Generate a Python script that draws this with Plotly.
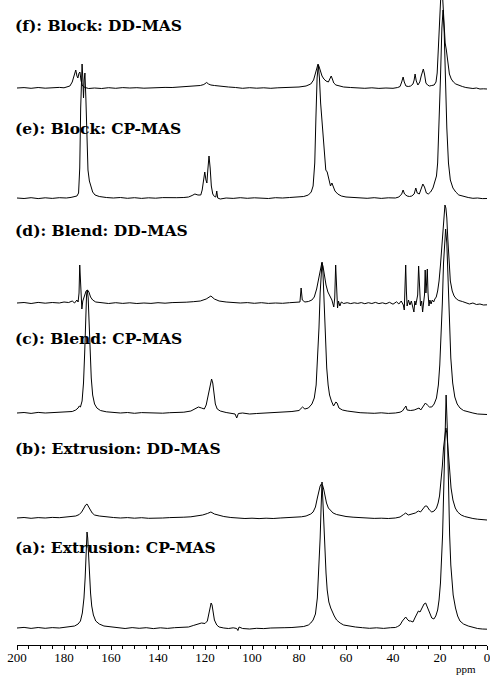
import plotly.graph_objects as go

# ---- data: (ppm, relative intensity) ----
spec_a = [(200,0),(197,0.6),(194,-0.4),(191,0.5),(188,-0.3),(185,0.4),(182,0),(179,0.6),(177,1),(175.5,2),(174,4),
(173,7),(172.2,15),(171.5,30),(171,50),(170.7,70),(170.4,88),(170.2,96),(169.9,90),(169.6,75),(169.2,55),(168.7,35),(168.2,22),(167.5,13),(166.5,7),(165,4),(163,2),(160,1),
(157,0.2),(154,-0.5),(151,0.4),(148,-0.3),(145,0.3),(142,-0.6),(139,0.2),(136,-0.4),(133,0.3),(130,0.5),(127,1),(125,2.5),(123,4),(121.5,5),(120,4.5),(119,7),(118.3,15),(117.8,22),(117.4,25),(117,23),(116.5,15),(116,8),(115,3),(114,1),(112,0),(110,-0.5),(108,0.2),(106.5,-0.5),(106,-2.5),(105.5,1),(104,-0.5),(101,-1),(98,-0.3),(95,-0.6),(92,0),(89,-0.2),(86,0.3),(83,0.5),(80,1),(78,1.5),(76,3),(75,5),(74,8),(73,14),(72.2,30),(71.5,60),(71,90),(70.6,120),(70.2,146),(69.8,125),(69.4,100),(69,80),(68.5,55),(68,38),(67.3,26),(66.5,20),(66,17),(65,12),(64,8),(62.5,5),(61,3),(59,2),(56,1),(53,0.3),(50,-0.3),(47,0.2),(44,-0.4),(41,0.3),(39,0.5),(38,1.5),(37,3),(36,7),(35.2,10),(34.6,11),(34,9),(33.2,7),(32.5,7),(31.5,6),(30.5,11),(29.8,15),(29.2,17),(28.5,16),(27.5,20),(26.8,24),(26.1,25),(25.4,21),(24.5,15),(23.5,10),(22.6,9),(21.8,12),(21,18),(20.4,28),(19.8,45),(19.4,63),(18.9,93),(18.4,140),(17.9,200),(17.4,233),(16.9,200),(16.4,140),(15.9,93),(15.4,63),(14.4,33),(13.4,20),(12.5,12),(11.5,7),(10,4),(8,2),(6,0.5),(4,-0.5),(2,-1),(0,-1.2)]

spec_b = [(200,0),(197,0.5),(194,-0.3),(191,0.4),(188,0),(185,0.6),(182,0.3),(179,0.8),(177,1.2),(175,2),(173.5,3.5),(172.5,6),(171.5,10),(170.8,13),(170.2,14),(169.6,12),(169,9),(168,5),(167,3),(165,2),(162,1),(159,0.5),(156,0),(153,0.4),(150,-0.2),(147,0.3),(144,-0.3),(141,0.2),(138,0),(135,0.4),(132,0.3),(129,0.8),(126,1.2),(123,2),(121,3),(119,4.5),(117.5,6),(116,4),(114,2.5),(112,1.5),(109,0.5),(106,0),(103,-0.5),(100,-0.2),(97,-0.6),(94,-0.2),(91,-0.5),(88,0),(85,0.2),(82,0.6),(79,1.2),(77,2),(75,4),(74,6),(73,11),(72.2,20),(71.5,28),(71,32),(70.5,34),(70,33),(69.5,29),(69,22),(68.3,15),(67.5,10),(66.5,7),(65.5,5),(64,3.5),(62,2.5),(60,1.5),(57,0.8),(54,0.2),(51,0),(48,-0.4),(45,-0.2),(42,-0.5),(39,0),(37,1),(35.5,3.5),(34.6,5),(33.5,3),(32.3,3.5),(30.5,5),(29.2,7),(28.3,6),(27.3,9),(26.3,12),(25.6,12),(24.5,8),(23.5,6),(22.5,7),(21.5,10),(20.8,15),(20.2,22),(19.6,35),(19,52),(18.5,70),(18,84),(17.5,90),(17.1,85),(16.6,68),(16,48),(15.3,30),(14.5,18),(13.5,10),(12.5,6),(11,3),(9.5,1.5),(8,0.5),(6,-0.5),(4,-1.2),(2,-1.5),(0,-2)]

spec_c = [(200,0),(197,0.5),(194,-0.4),(191,0.6),(188,0),(185,0.3),(182,0.8),(179,1),(176.5,1.5),(175,3),(174,5),(173.5,7),(173,6),(172.3,12),(171.7,30),(171.2,60),(170.8,95),(170.4,118),(170.1,123),(169.7,115),(169.3,90),(168.9,60),(168.4,35),(167.8,18),(167,9),(166,5),(164.5,2.5),(162,1.2),(159,0.5),(156,0),(153,0.5),(150,-0.3),(147,0.4),(144,0),(141,0.3),(138,-0.2),(135,0.3),(132,0.5),(129,0.8),(126,2),(124,4),(122.8,6),(121.5,5),(120.3,4),(119.5,8),(118.8,17),(118.3,20),(117.8,27),(117.2,34),(116.7,30),(116.2,20),(115.6,9),(114.8,4),(113.5,2),(111,0.5),(108.5,0),(107.2,-1),(106.5,-5),(105.8,-0.5),(104,0),(101,-1),(98,-0.5),(95,-0.2),(92,0.3),(89,0.2),(86,0.8),(83,1.5),(80,2.5),(78.5,6),(77.5,4),(76,5),(74.5,9),(73.5,15),(72.7,28),(72,55),(71.5,85),(71,120),(70.6,145),(70.2,151),(69.8,140),(69.3,110),(68.8,75),(68.2,45),(67.6,28),(67,18),(66.2,12),(65.8,10),(65.3,7),(64.3,11),(63.8,10),(63,5),(61.5,3),(59.5,2),(57,1),(54,0.3),(51,0),(48,-0.3),(45,0.2),(42,-0.4),(39,0),(37,0.8),(36,2),(35,5),(34.5,7),(34,3),(32.5,2.5),(31,3),(29.5,4),(28.9,5),(28.2,3),(27,7),(26.2,10),(25.4,8),(24.5,6),(23.5,6),(22.5,9),(21.5,15),(20.7,28),(20.1,48),(19.5,78),(19,110),(18.5,150),(18,178),(17.6,184),(17.1,170),(16.6,135),(16,90),(15.4,55),(14.6,30),(13.7,16),(12.7,9),(11.5,5),(10,2.5),(8,1),(6,0),(4,-1),(2,-1.5),(0,-1.5)]

spec_d = [(200,0),(197,0.5),(194,-0.5),(191,0.6),(188,-0.2),(185,0.5),(182,0),(180,1),(178,0.5),(176.5,2),(175.5,0),(174.5,3),(174,1),(173.6,10),(173.3,38),(173,20),(172.7,-3),(172.4,-6),(172,2),(171.3,8),(170.6,12),(170,13),(169.4,11),(168.7,6),(167.8,3),(166.5,1),(164,0.5),(161,-0.5),(158,0.3),(155,-0.4),(152,0.2),(149,-0.5),(146,0),(143,-0.4),(140,0.3),(137,-0.2),(134,0.4),(131,0.3),(128,0.8),(125,1.3),(122,2),(119.5,4),(117.5,7),(116,4),(114,2),(111,1),(108,0.5),(105,0),(102,0.4),(99,-0.3),(96,0.3),(93,-0.4),(90,0),(87,-0.3),(84,0.3),(81,0.6),(79.6,1),(79.1,15),(78.6,3),(77.5,1),(76,1.5),(74.5,3),(73.5,6),(72.5,14),(71.6,25),(70.9,35),(70.3,40),(69.8,37),(69.2,28),(68.5,18),(67.7,11),(66.8,6),(66,3),(65.2,-4),(64.8,5),(64.4,38),(64,10),(63.6,-5),(63.2,2),(62.6,-3),(62,1),(61,-0.5),(59.5,0.3),(58,-0.6),(56.5,0.2),(55,-0.4),(53.5,0.4),(52,-0.7),(50.5,0.3),(49,-0.5),(47.5,0.6),(46,-0.6),(44.5,0.2),(43,-0.8),(41.5,0.7),(40,-1.2),(38.5,1.2),(37.5,-1),(36.5,2),(35.6,-2),(35.2,-7),(34.9,10),(34.6,38),(34.3,12),(34,-3),(33.4,3),(32.8,-2),(32.2,2),(31.6,-4),(31.1,-9),(30.7,2),(30.3,-2),(29.9,3),(29.5,8),(29.1,37),(28.7,10),(28.3,-3),(27.8,2),(27.4,-9),(27,0),(26.6,8),(26.3,33),(26,10),(25.7,20),(25.4,34),(25.1,10),(24.7,-3),(24.3,3),(23.8,-1),(23.3,3),(22.7,1),(22.2,4),(21.6,6),(21,12),(20.4,22),(19.8,38),(19.3,55),(18.8,75),(18.3,90),(17.9,98),(17.5,95),(17.1,85),(16.7,65),(16.2,40),(15.6,22),(14.8,12),(14,7),(13,4),(12,2.5),(10.5,1.5),(9,0.5),(7.5,-1),(6,0),(4.5,-1.5),(3,-1),(1.5,-2),(0,-1.8)]

spec_e = [(200,0),(197,-0.5),(194,0.3),(191,-0.6),(188,0.2),(185,-0.4),(182,0.3),(179,0),(177,0.6),(175.5,1),(174.5,2),(173.8,5),(173.3,30),(172.9,90),(172.6,128),(172.3,134),(172,120),(171.7,100),(171.4,118),(171.1,125),(170.7,100),(170.3,60),(169.8,28),(169.2,17),(168.6,12),(167.8,6),(166.8,3),(165,1.5),(162,0.5),(159,0),(156,0.5),(153,-0.3),(150,0.3),(147,-0.4),(144,0.2),(141,-0.2),(138,0.4),(135,0),(132,0.3),(129,0.5),(127,1),(125.5,2.5),(124.3,4),(123,3),(121.8,3),(121.2,8),(120.6,20),(120.1,26),(119.6,18),(119.2,15),(118.8,28),(118.3,42),(117.8,30),(117.3,12),(116.7,4),(116,1.5),(115.4,1),(115,7),(114.6,0),(113.5,-1),(111,0),(108,-0.4),(105,0.3),(102,-0.3),(99,0.2),(96,0),(93,-0.5),(90,0.3),(87,0),(84,0.5),(81,1),(78,1.5),(76,3),(74.8,6),(74,12),(73.3,35),(72.8,80),(72.3,120),(71.8,133),(71.3,120),(70.8,95),(70.2,75),(69.8,70),(69.3,45),(68.6,28),(68,26),(67.3,18),(66.6,12),(66,15),(65.4,12),(64.7,7),(63.5,4),(62,2),(60,1),(57,0.5),(54,0),(51,-0.3),(48,0.3),(45,-0.4),(42,0.2),(39,0),(37.5,1),(36.3,4),(35.7,8),(35.1,4),(34,2),(33,1.5),(32,2),(31,4),(30.3,10),(29.7,5),(28.8,4),(28,9),(27.3,14),(26.6,11),(25.8,5),(25,4),(24,6),(23,10),(22.2,17),(21.5,22),(21,35),(20.4,70),(19.8,120),(19.2,170),(18.7,188),(18.2,165),(17.7,120),(17.1,70),(16.4,35),(15.6,18),(14.5,10),(13.3,6),(12,3),(10,1.5),(8,0.5),(6,-0.3),(4,0),(2,-0.6),(0,-0.5)]

spec_f = [(200,0),(197,0.4),(194,-0.3),(191,0.5),(188,-0.2),(185,0.3),(182,0.6),(180,0.2),(178.5,1),(177.5,2),(176.5,6),(175.6,14),(175,18),(174.5,12),(174.1,10),(173.6,15),(173.2,16),(172.8,8),(172.3,3),(171.8,1.5),(171,0.5),(169.5,-0.5),(167,0),(164,-0.5),(161,0.3),(158,-0.3),(155,0.4),(152,0),(149,0.3),(146,-0.2),(143,0.3),(140,0.1),(137,0.6),(134,0.5),(131,1),(128,1.3),(125,1.8),(122,2.5),(120.5,3.5),(119.3,5.5),(118.5,4),(117.5,3),(116,2.5),(113,1.5),(110,1),(107,0.5),(104,-0.3),(101,0.3),(98,-0.2),(95,0.2),(92,-0.3),(89,0.2),(86,0.3),(83,0.5),(80,1),(77,2),(75,4),(73.8,8),(73,15),(72.4,22),(71.9,24),(71.4,21),(70.8,16),(70.2,12),(69.4,9),(68.5,7),(67.5,6),(66.8,9),(66.3,12),(65.8,9),(65.2,5),(64.3,3),(63,2),(61,1),(58,0.5),(55,0),(52,-0.3),(49,0.2),(46,-0.4),(43,0),(40,-0.3),(38,0.5),(37,1.5),(36.3,6),(35.7,11),(35.2,6),(34.5,2),(33.5,1.5),(32.5,2),(31.5,4),(31,8),(30.6,14),(30.1,7),(29.4,3),(28.6,6),(28,12),(27.5,18),(27.1,19),(26.6,14),(26,5),(25.3,3),(24.5,2),(23.5,2.5),(22.5,3),(21.7,6),(21.2,15),(20.7,40),(20.2,75),(19.6,95),(19.1,100),(18.7,85),(18.3,60),(17.8,45),(17.3,38),(16.7,25),(16,14),(15.2,9),(14.3,6),(13.3,4),(12,2.5),(10.5,1.5),(9,0.5),(7.5,0),(6,-0.5),(4.5,0),(3,-1),(1.5,-0.8),(0,-1)]

labels = ["(a): Extrusion: CP-MAS", "(b): Extrusion: DD-MAS", "(c): Blend: CP-MAS",
          "(d): Blend: DD-MAS", "(e): Block: CP-MAS", "(f): Block: DD-MAS"]
spectra = [spec_a, spec_b, spec_c, spec_d, spec_e, spec_f]
offsets = [17, 127, 232, 342, 447, 557]        # vertical stacking of each spectrum
label_y = [98, 197, 307, 415, 517, 620]

tick_vals = [200, 180, 160, 140, 120, 100, 80, 60, 40, 20, 0]

fig = go.Figure()
for spec, off in zip(spectra, offsets):
    xs = [p[0] for p in spec]
    ys = [p[1] + off for p in spec]
    fig.add_trace(go.Scatter(x=xs, y=ys, mode="lines",
                             line=dict(color="black", width=1), showlegend=False,
                             hoverinfo="skip"))

for lab, ly in zip(labels, label_y):
    fig.add_annotation(x=-0.009, xref="paper", y=ly, yref="y", text="<b>" + lab + "</b>",
                       showarrow=False, xanchor="left", yanchor="middle",
                       font=dict(family="DejaVu Serif", size=15.5, color="black"))

fig.add_annotation(x=0.955, xref="paper", y=-0.0372, yref="paper", text="ppm", showarrow=False,
                   xanchor="center", yanchor="middle",
                   font=dict(family="Liberation Serif", size=11, color="black"))

fig.update_xaxes(range=[200, 0], tickvals=tick_vals, ticktext=[str(v) for v in tick_vals],
                 showline=True, linecolor="black", linewidth=1, ticks="outside",
                 ticklen=4, tickcolor="black", tickwidth=1, showgrid=False, zeroline=False,
                 ticklabeloverflow="allow", ticklabelstandoff=-4,
                 tickfont=dict(family="Liberation Serif", size=13, color="black"),
                 minor=dict(dtick=5, tick0=0, ticks="outside", ticklen=3, tickcolor="black", showgrid=False))
fig.update_yaxes(range=[0, 645], visible=False, showgrid=False, zeroline=False)

fig.update_layout(width=490, height=680, margin=dict(l=17, r=3, t=0, b=35),
                  plot_bgcolor="white", paper_bgcolor="white")

fig.write_html("out.html")
